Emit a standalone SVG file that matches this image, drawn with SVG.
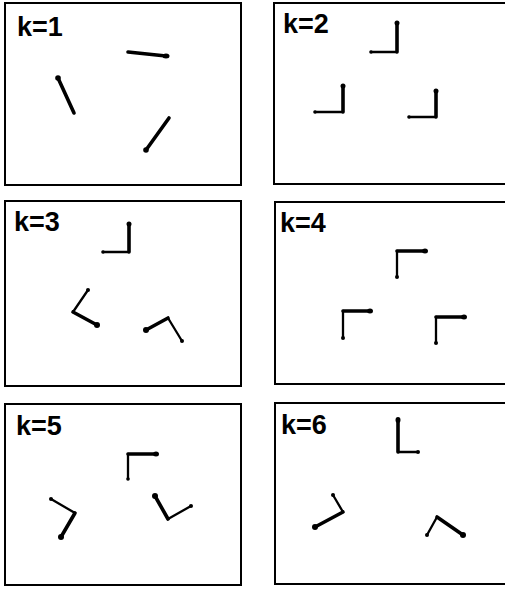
<svg xmlns="http://www.w3.org/2000/svg" width="505" height="591" viewBox="0 0 505 591">
<style>
.frame{fill:#fff;stroke:#000;stroke-width:2}
.lbl{font-family:"Liberation Sans",Arial,sans-serif;font-size:27px;font-weight:bold;fill:#000}
.thick{stroke:#000;stroke-width:3.6;fill:none;stroke-linecap:round;stroke-linejoin:round}
.thin{stroke:#000;stroke-width:2.3;fill:none;stroke-linecap:round;stroke-linejoin:round}
.big{fill:#000}
</style>
<rect width="505" height="591" fill="#fff"/>
<g id="panel-k1">
<rect class="frame" x="5" y="3" width="236" height="182"/>
<text class="lbl" x="17" y="36">k=1</text>
<line class="thick" x1="128" y1="52" x2="166" y2="56"/><ellipse class="big" cx="166" cy="56" rx="3.5" ry="2.5"/>
<line class="thick" x1="58" y1="78" x2="74" y2="113"/><circle class="big" cx="58" cy="78" r="2.8"/>
<line class="thick" x1="169" y1="118" x2="146" y2="150"/><circle class="big" cx="146" cy="150" r="2.8"/>
</g>
<g id="panel-k2">
<rect class="frame" x="274" y="3" width="240" height="181"/>
<text class="lbl" x="283" y="33">k=2</text>
<polyline class="thin" points="371,52 397,52"/><polyline class="thick" points="397,52 397,24"/>
<circle class="big" cx="397" cy="23" r="2.5"/><circle class="big" cx="371" cy="52" r="1.8"/>
<polyline class="thin" points="315,112 343,112"/><polyline class="thick" points="343,112 343,87"/>
<circle class="big" cx="343" cy="86" r="2.5"/><circle class="big" cx="315" cy="112" r="1.8"/>
<polyline class="thin" points="409,117 436,117"/><polyline class="thick" points="436,117 436,92"/>
<circle class="big" cx="436" cy="91" r="2.5"/><circle class="big" cx="409" cy="117" r="1.8"/>
</g>
<g id="panel-k3">
<rect class="frame" x="5" y="201" width="236" height="185"/>
<text class="lbl" x="14" y="231">k=3</text>
<polyline class="thin" points="103,252 129,252"/><polyline class="thick" points="129,252 129,225"/>
<circle class="big" cx="129" cy="224" r="2.5"/><circle class="big" cx="103" cy="252" r="1.8"/>
<polyline class="thin" points="88,290 73,312"/><polyline class="thick" points="73,312 97,325"/>
<circle class="big" cx="88" cy="290" r="2"/><circle class="big" cx="97" cy="325" r="3"/>
<polyline class="thick" points="146,330 168,318"/><polyline class="thin" points="168,318 182,341"/>
<circle class="big" cx="146" cy="330" r="3"/><circle class="big" cx="182" cy="341" r="2"/>
</g>
<g id="panel-k4">
<rect class="frame" x="275" y="202" width="240" height="182"/>
<text class="lbl" x="280" y="232">k=4</text>
<polyline class="thin" points="397,276 397,251"/><polyline class="thick" points="397,251 424,251"/>
<ellipse class="big" cx="425" cy="251" rx="3" ry="2.5"/><circle class="big" cx="397" cy="277" r="2"/>
<polyline class="thin" points="343,337 343,311"/><polyline class="thick" points="343,311 369,311"/>
<ellipse class="big" cx="370" cy="311" rx="3" ry="2.5"/><circle class="big" cx="343" cy="338" r="2"/>
<polyline class="thin" points="436,343 436,317"/><polyline class="thick" points="436,317 463,317"/>
<ellipse class="big" cx="464" cy="317" rx="3" ry="2.5"/><circle class="big" cx="436" cy="343" r="2"/>
</g>
<g id="panel-k5">
<rect class="frame" x="5" y="404" width="236" height="181"/>
<text class="lbl" x="16" y="435">k=5</text>
<polyline class="thin" points="128,479 128,454"/><polyline class="thick" points="128,454 155,454"/>
<ellipse class="big" cx="156" cy="454" rx="3" ry="2.5"/><circle class="big" cx="128" cy="479" r="1.8"/>
<polyline class="thin" points="51,499 75,513"/><polyline class="thick" points="75,513 61,537"/>
<circle class="big" cx="51" cy="499" r="2"/><circle class="big" cx="61" cy="537" r="3"/>
<polyline class="thick" points="155,496 168,519"/><polyline class="thin" points="168,519 191,506"/>
<circle class="big" cx="155" cy="496" r="3"/><circle class="big" cx="191" cy="506" r="2"/>
</g>
<g id="panel-k6">
<rect class="frame" x="275" y="403" width="240" height="181"/>
<text class="lbl" x="281" y="434">k=6</text>
<polyline class="thick" points="398,421 398,452"/><polyline class="thin" points="398,452 417,452"/>
<ellipse class="big" cx="398" cy="420" rx="2.5" ry="3"/><circle class="big" cx="418" cy="452" r="2"/>
<polyline class="thin" points="333,495 343,512"/><polyline class="thick" points="343,512 315,527"/>
<circle class="big" cx="333" cy="495" r="2"/><circle class="big" cx="315" cy="527" r="3"/>
<polyline class="thin" points="427,535 437,517"/><polyline class="thick" points="437,517 463,535"/>
<circle class="big" cx="427" cy="535" r="2"/><circle class="big" cx="463" cy="535" r="3"/>
</g>
<g id="connectors"></g>
</svg>
